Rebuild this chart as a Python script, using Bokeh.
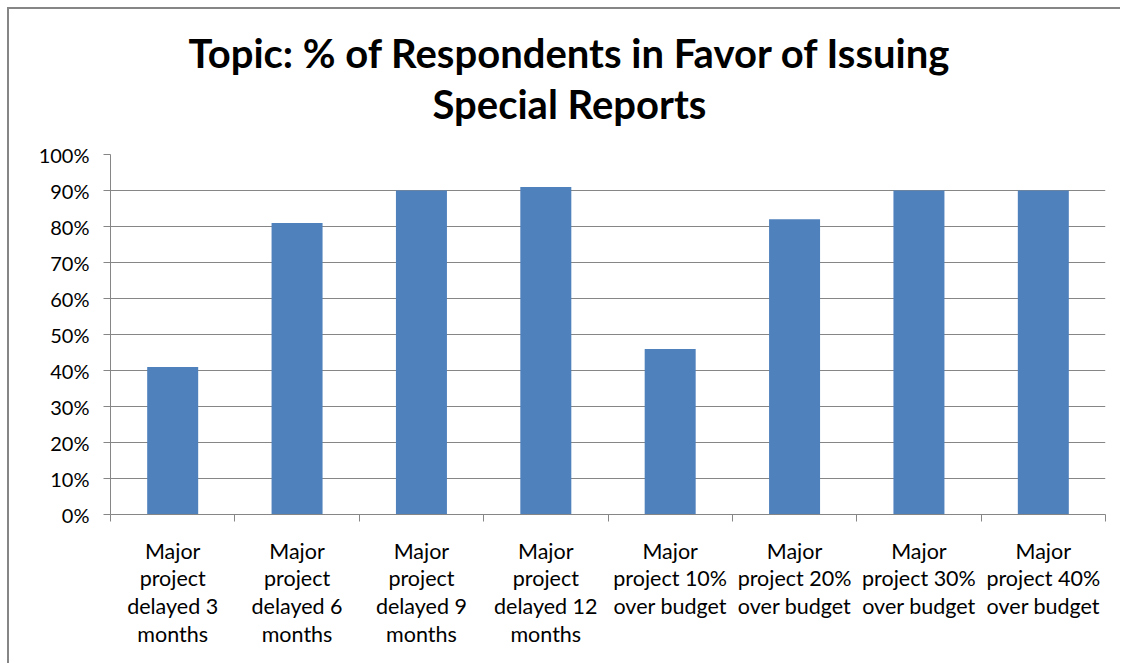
from bokeh.plotting import figure
from bokeh.models import (ColumnDataSource, FixedTicker, NumeralTickFormatter,
                          Range1d, Title)
from bokeh.embed import file_html
from bokeh.resources import INLINE

categories = [
    "Major\nproject\ndelayed 3\nmonths",
    "Major\nproject\ndelayed 6\nmonths",
    "Major\nproject\ndelayed 9\nmonths",
    "Major\nproject\ndelayed 12\nmonths",
    "Major\nproject 10%\nover budget",
    "Major\nproject 20%\nover budget",
    "Major\nproject 30%\nover budget",
    "Major\nproject 40%\nover budget",
]
values = [0.41, 0.81, 0.90, 0.91, 0.46, 0.82, 0.90, 0.90]
y_ticks = [0.0, 0.1, 0.2, 0.3, 0.4, 0.5, 0.6, 0.7, 0.8, 0.9, 1.0]
title_lines = ["Topic: % of Respondents in Favor of Issuing", "Special Reports"]

n = len(categories)
centers = [i + 0.5 for i in range(n)]
bounds = [float(i) for i in range(n + 1)]

source = ColumnDataSource(data=dict(x=centers, top=values))

GRAY = "#868686"
FONT = "Lato"

p = figure(width=1113, height=656, output_backend="svg", toolbar_location=None,
           x_range=Range1d(0, n), y_range=Range1d(0, 1),
           min_border_left=101, min_border_right=17,
           min_border_top=145, min_border_bottom=151,
           title=None)
p.styles = {"margin-left": "7px", "margin-top": "7px",
            "border-left": f"2px solid {GRAY}", "border-top": f"2px solid {GRAY}"}
p.outline_line_color = None
p.background_fill_color = "white"
p.border_fill_color = "white"

p.vbar(x="x", top="top", width=0.41, bottom=0, source=source,
       fill_color="#4F81BD", line_color=None)

# two-line title (line nearest the plot added first)
t2 = Title(text=title_lines[1], align="left", offset=322, text_font=FONT,
           text_font_size="40px", text_font_style="bold", text_color="black",
           standoff=53)
t1 = Title(text=title_lines[0], align="left", offset=78, text_font=FONT,
           text_font_size="40px", text_font_style="bold", text_color="black",
           standoff=-50)
p.add_layout(t2, "above")
p.add_layout(t1, "above")

# y axis
ya = p.yaxis[0]
ya.ticker = FixedTicker(ticks=y_ticks, minor_ticks=[])
ya.formatter = NumeralTickFormatter(format="0%")
ya.axis_line_color = GRAY
ya.major_tick_line_color = GRAY
ya.major_tick_in = 0
ya.major_tick_out = 7
ya.minor_tick_line_color = None
ya.major_label_text_font = FONT
ya.major_label_text_font_size = "20px"
ya.major_label_text_color = "black"
ya.major_label_standoff = 14

# x axis
xa = p.xaxis[0]
xa.ticker = FixedTicker(ticks=centers, minor_ticks=bounds)
xa.major_label_overrides = {c: lab for c, lab in zip(centers, categories)}
xa.axis_line_color = GRAY
xa.major_tick_line_color = None
xa.major_tick_in = 0
xa.major_tick_out = 0
xa.minor_tick_line_color = GRAY
xa.minor_tick_in = 0
xa.minor_tick_out = 7
xa.major_label_text_font = FONT
xa.major_label_text_font_size = "21.5px"
xa.major_label_text_color = "black"
xa.major_label_text_line_height = 1.07
xa.major_label_standoff = 16

p.xgrid.grid_line_color = None
p.ygrid.ticker = FixedTicker(ticks=y_ticks)
p.ygrid.grid_line_color = GRAY
p.ygrid.grid_line_width = 1

open("out.html", "w").write(file_html(p, INLINE))
